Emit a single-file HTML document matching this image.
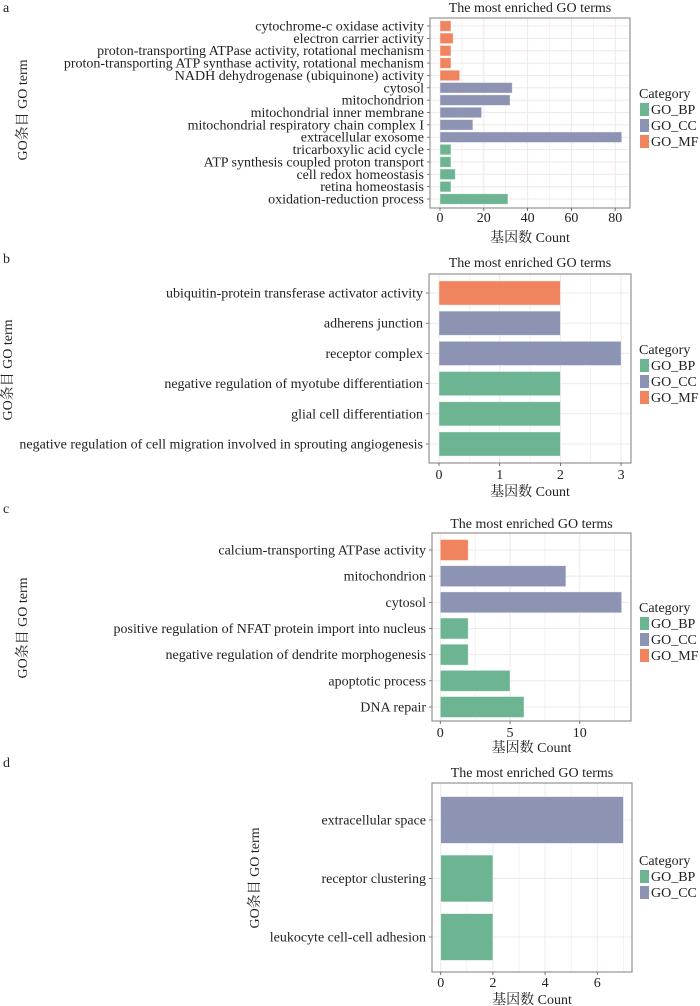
<!DOCTYPE html>
<html><head><meta charset="utf-8"><style>
html,body{margin:0;padding:0;background:#fff;}
svg{display:block;font-family:"Liberation Serif","Noto Serif CJK SC",serif;}
</style></head><body>
<svg id="fig" width="700" height="1006" viewBox="0 0 700 1006" xmlns="http://www.w3.org/2000/svg"></svg>
<script>
// ---- Panel a data ----
const termsA = ["cytochrome-c oxidase activity","electron carrier activity","proton-transporting ATPase activity, rotational mechanism","proton-transporting ATP synthase activity, rotational mechanism","NADH dehydrogenase (ubiquinone) activity","cytosol","mitochondrion","mitochondrial inner membrane","mitochondrial respiratory chain complex I","extracellular exosome","tricarboxylic acid cycle","ATP synthesis coupled proton transport","cell redox homeostasis","retina homeostasis","oxidation-reduction process"];
const countsA = [5,6,5,5,9,33,32,19,15,83,5,5,7,5,31];
const catsA = ["MF","MF","MF","MF","MF","CC","CC","CC","CC","CC","BP","BP","BP","BP","BP"];
const ticksA = [0,20,40,60,80];
// ---- Panel b data ----
const termsB = ["ubiquitin-protein transferase activator activity","adherens junction","receptor complex","negative regulation of myotube differentiation","glial cell differentiation","negative regulation of cell migration involved in sprouting angiogenesis"];
const countsB = [2,2,3,2,2,2];
const catsB = ["MF","CC","CC","BP","BP","BP"];
const ticksB = [0,1,2,3];
// ---- Panel c data ----
const termsC = ["calcium-transporting ATPase activity","mitochondrion","cytosol","positive regulation of NFAT protein import into nucleus","negative regulation of dendrite morphogenesis","apoptotic process","DNA repair"];
const countsC = [2,9,13,2,2,5,6];
const catsC = ["MF","CC","CC","BP","BP","BP","BP"];
const ticksC = [0,5,10];
// ---- Panel d data ----
const termsD = ["extracellular space","receptor clustering","leukocyte cell-cell adhesion"];
const countsD = [7,2,2];
const catsD = ["CC","BP","BP"];
const ticksD = [0,2,4,6];
const legendA = ["BP","CC","MF"];
const legendD = ["BP","CC"];

const COLORS = {BP:"#6db592", CC:"#8d93b3", MF:"#f0845f"};
const NS = "http://www.w3.org/2000/svg";
const svg = document.getElementById("fig");
function mk(tag, attrs, parent, text){
  const e = document.createElementNS(NS, tag);
  for (const k in attrs) e.setAttribute(k, attrs[k]);
  if (text !== undefined) e.textContent = text;
  (parent || svg).appendChild(e);
  return e;
}

function panel(cfg, terms, counts, cats, ticks, legend){
  const g = mk("g", {});
  
  
  const L = cfg.box[0], R = cfg.box[1], T = cfg.box[2], B = cfg.box[3];
  const xs = v => cfg.x0 + v * cfg.unit;
  const n = terms.length;
  const step = (cfg.yLast - cfg.yFirst) / Math.max(1, n - 1);
  const ys = i => cfg.yFirst + i * step;
  const bh = step * cfg.bw;
  // panel letter
  const pl = mk("text", {x:3, y:cfg.letterY, "font-size":14, fill:"#222"}, g, cfg.id);
  
  
  // title
  const tt = mk("text", {x:(L+R)/2, y:cfg.titleY, "font-size":14, "text-anchor":"middle", fill:"#222"}, g, "The most enriched GO terms");
  
  
  // grid
  const grid = mk("g", {stroke:"#efe8e8"}, g);
  
  
  for (let k = 0; k < ticks.length; k++){
    const a = ticks[k];
    const b = k + 1 < ticks.length ? ticks[k+1] : ticks[k] + (ticks[1] - ticks[0]);
    const mid = xs((a + b) / 2);
    if (mid < R) mk("line", {x1:mid, x2:mid, y1:T, y2:B, "stroke-width":0.6}, grid);
    mk("line", {x1:xs(a), x2:xs(a), y1:T, y2:B, "stroke-width":1}, grid);
  }
  for (let i = 0; i < n; i++) mk("line", {x1:L, x2:R, y1:ys(i), y2:ys(i), "stroke-width":1}, grid);
  // bars
  for (let i = 0; i < n; i++){
    const r = mk("rect", {x:xs(0), y:ys(i) - bh/2, width:Math.max(0, xs(counts[i]) - xs(0)), height:bh, fill:COLORS[cats[i]], stroke:"#ffffff", "stroke-opacity":0.5, "stroke-width":0.8}, g);
    
    
    const lab = mk("text", {x:L - 6, y:ys(i) + 4.5, "font-size":cfg.fs, "text-anchor":"end", fill:"#222"}, g, terms[i]);
    
    
    mk("line", {x1:L - 3, x2:L, y1:ys(i), y2:ys(i), stroke:"#555", "stroke-width":0.8}, g);
  }
  // box
  const bx = mk("rect", {x:L, y:T, width:R-L, height:B-T, fill:"none", stroke:"#9b9090", "stroke-width":1.2}, g);
  
  
  // x ticks
  for (const t of ticks){
    mk("line", {x1:xs(t), x2:xs(t), y1:B, y2:B + 3, stroke:"#555", "stroke-width":0.8}, g);
    const tl = mk("text", {x:xs(t), y:cfg.tickY, "font-size":14, "text-anchor":"middle", fill:"#222"}, g, String(t));
    
    
  }
  const xl = mk("text", {x:(L+R)/2, y:cfg.xlabY, "font-size":14, "text-anchor":"middle", fill:"#222"}, g, "基因数 Count");
  
  
  const yl = mk("text", {x:0, y:0, "font-size":14, "text-anchor":"middle", fill:"#222", transform:"translate(" + cfg.ytX + "," + cfg.ytY + ") rotate(-90)"}, g, "GO条目 GO term");
  
  
  // legend
  const lg = mk("g", {}, g);
  
  
  mk("text", {x:639, y:cfg.legY, "font-size":14, fill:"#222"}, lg, "Category");
  legend.forEach((c, k) => {
    const y = cfg.legY + 16 * (k + 1);
    const sw = mk("rect", {x:640, y:y - 11, width:9, height:13, fill:COLORS[c]}, lg);
    
    
    const t = mk("text", {x:651, y:y, "font-size":14, fill:"#222"}, lg, "GO_" + c);
    
    
  });
}

panel({id:"a", box:[430,630,18,208], x0:440, unit:2.19, yFirst:26, yLast:199, bw:0.85, fs:14, letterY:12, titleY:12, tickY:222, xlabY:242, ytX:27, ytY:110, legY:98},
  termsA, countsA, catsA, ticksA, legendA);
panel({id:"b", box:[429,631,274,463], x0:439, unit:60.7, yFirst:293, yLast:444, bw:0.8, fs:14, letterY:263, titleY:267, tickY:479, xlabY:496, ytX:12, ytY:370, legY:354},
  termsB, countsB, catsB, ticksB, legendA);
panel({id:"c", box:[432,631,533,721], x0:440.3, unit:13.95, yFirst:550, yLast:707, bw:0.8, fs:14, letterY:513, titleY:528, tickY:737, xlabY:752, ytX:27, ytY:628, legY:612},
  termsC, countsC, catsC, ticksC, legendA);
panel({id:"d", box:[432,632,783,972], x0:440.7, unit:26.1, yFirst:820, yLast:937, bw:0.8, fs:14, letterY:767, titleY:777, tickY:987, xlabY:1004, ytX:259, ytY:878, legY:865},
  termsD, countsD, catsD, ticksD, legendD);
</script>
</body></html>
